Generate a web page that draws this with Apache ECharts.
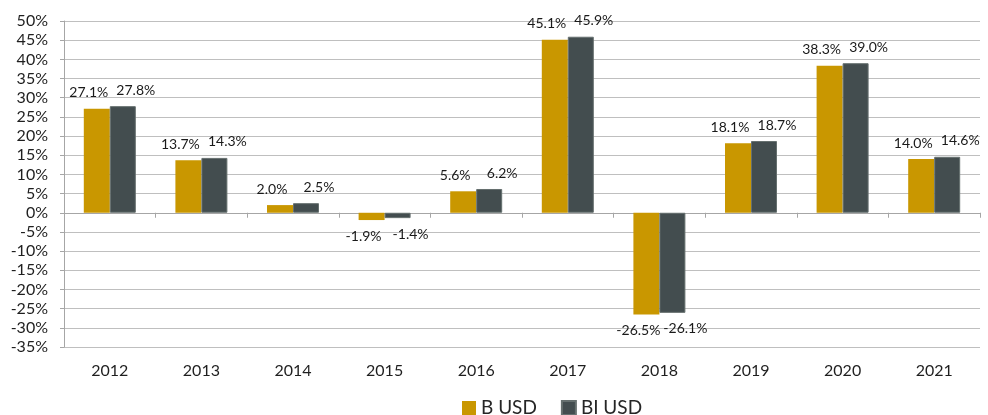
<!DOCTYPE html>
<html>
<head>
<meta charset="utf-8">
<script src="https://cdn.jsdelivr.net/npm/echarts@6/dist/echarts.min.js"></script>
<style>
  html, body { margin: 0; padding: 0; background: #fff; }
  #chart { width: 988px; height: 415px; }
</style>
</head>
<body>
<div id="chart"></div>
<script>
// values
var years = ['2012', '2013', '2014', '2015', '2016', '2017', '2018', '2019', '2020', '2021'];
var bUsd = [27.1, 13.7, 2.0, -1.9, 5.6, 45.1, -26.5, 18.1, 38.3, 14.0];
var biUsd = [27.8, 14.3, 2.5, -1.4, 6.2, 45.9, -26.1, 18.7, 39.0, 14.6];

var font = 'Lato';

var myChart = echarts.init(document.getElementById('chart'));

function pct(p) {
  return p.value.toFixed(1) + '%';
}

var option = {
  animation: false,
  textStyle: { fontFamily: font },
  grid: { left: 64, right: 8, top: 21, bottom: 68 },
  legend: {
    data: ['B USD', 'BI USD'],
    left: 457,
    top: 393,
    icon: 'rect',
    itemWidth: 14,
    itemHeight: 14,
    itemGap: 24,
    textStyle: { fontFamily: font, fontSize: 19, lineHeight: 20, color: '#262626' }
  },
  xAxis: [
    {
      // labels along the bottom
      type: 'category',
      data: years,
      position: 'bottom',
      axisLine: { show: false, onZero: false },
      axisTick: { show: false },
      axisLabel: { fontFamily: font, fontSize: 16, color: '#1f1f1f', margin: 16 }
    },
    {
      // zero line with tick marks
      type: 'category',
      data: years,
      position: 'bottom',
      axisLine: { show: true, onZero: true, lineStyle: { color: '#a6a6a6' } },
      axisTick: { show: true, length: 5, alignWithLabel: false, lineStyle: { color: '#a6a6a6' } },
      axisLabel: { show: false }
    }
  ],
  yAxis: {
    type: 'value',
    min: -35,
    max: 50,
    interval: 5,
    axisLine: { show: true, lineStyle: { color: '#a6a6a6' } },
    axisTick: { show: true, length: 4, lineStyle: { color: '#a6a6a6' } },
    splitLine: { lineStyle: { color: '#bfbfbf' } },
    axisLabel: { formatter: '{value}%', fontFamily: font, fontSize: 16, color: '#1f1f1f', margin: 16 }
  },
  series: [
    {
      name: 'B USD',
      type: 'bar',
      data: bUsd,
      barWidth: 26,
      barGap: '0%',
      itemStyle: { color: '#c99700' },
      label: {
        show: true,
        position: 'outside',
        distance: 9,
        offset: [-8, 0],
        formatter: pct,
        fontFamily: font,
        fontSize: 14,
        color: '#1a1a1a'
      }
    },
    {
      name: 'BI USD',
      type: 'bar',
      data: biUsd,
      barWidth: 26,
      itemStyle: { color: '#434d4f', borderColor: '#66706f', borderWidth: 1 },
      label: {
        show: true,
        position: 'outside',
        distance: 9,
        offset: [13, 0],
        formatter: pct,
        fontFamily: font,
        fontSize: 14,
        color: '#1a1a1a'
      }
    }
  ]
};

myChart.setOption(option);
</script>
</body>
</html>
